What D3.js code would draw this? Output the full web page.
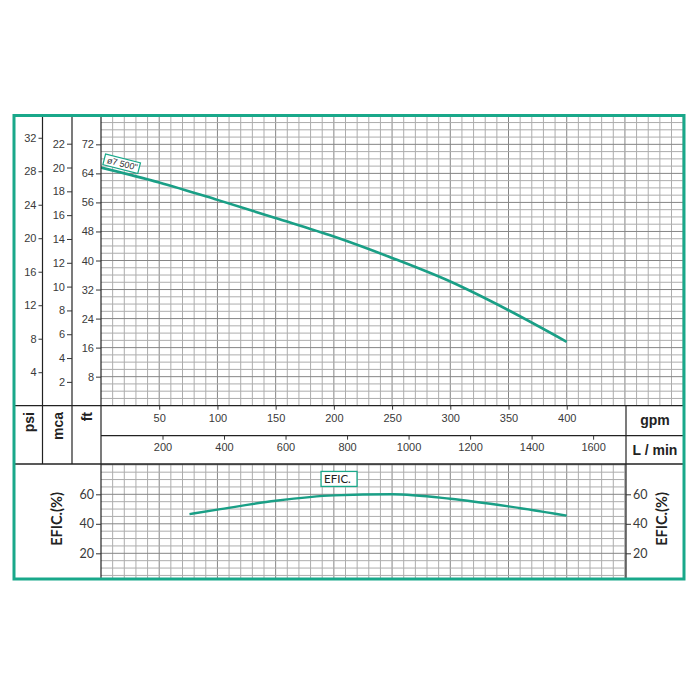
<!DOCTYPE html>
<html><head><meta charset="utf-8">
<script src="https://cdn.jsdelivr.net/npm/d3@7"></script>
<style>html,body{margin:0;padding:0;background:#fff;}svg{display:block;}</style>
</head><body>
<script>
// ---- data ----
const headFlowGpm = [0, 50, 100, 150, 200, 250, 300, 350, 400];
const headFt      = [65.6, 61.5, 56.7, 51.7, 46.6, 40.7, 34.2, 26.3, 17.6];
const effFlowGpm  = [76, 100, 150, 200, 250, 300, 350, 400];
const effPct      = [46.6, 49.6, 55.6, 59.3, 60.0, 57.0, 51.8, 45.5];
const gpmTicks = [50, 100, 150, 200, 250, 300, 350, 400];
const lpmTicks = [200, 400, 600, 800, 1000, 1200, 1400, 1600];
const ftTicks  = [8, 16, 24, 32, 40, 48, 56, 64, 72];
const mcaTicks = [2, 4, 6, 8, 10, 12, 14, 16, 18, 20, 22];
const psiTicks = [4, 8, 12, 16, 20, 24, 28, 32];
const effTicks = [20, 40, 60];
const curveLabel = 'ø7 500"';
const effLabel = 'EFIC.';

// ---- layout ----
const W = 700, H = 700;
const B = {l: 14, r: 684, t: 115.5, b: 579};
const xL = 101, xR = 626, xPsi = 42.5, xMca = 72;
const yHeadBase = 405.7, yMid = 435.7, yRowBot = 464;
const GREEN = '#19a88a', LINE = '#1a9f86';
const MINOR = '#adadad', MAJOR = '#858585';

const svg = d3.select('body').append('svg').attr('width', W).attr('height', H);
svg.append('rect').attr('width', W).attr('height', H).attr('fill', '#fff');

const x = d3.scaleLinear().domain([0, 500]).range([xL, xL + 500 * 1.1643]);
const xLpm = d3.scaleLinear().domain([0, 500 * 3.7854]).range(x.range());
const yFt = d3.scaleLinear().domain([0, 80]).range([yHeadBase, yHeadBase - 80 * 3.63]);
const yMca = d3.scaleLinear().domain([0, 80 / 3.2808]).range(yFt.range());
const yPsi = d3.scaleLinear().domain([0, 80 / 2.3067]).range(yFt.range());
const yEff = d3.scaleLinear().domain([0, 80]).range([582.8, 582.8 - 80 * 1.475]);

const defs = svg.append('defs');
defs.append('clipPath').attr('id', 'cTop').append('rect')
  .attr('x', xL).attr('y', B.t).attr('width', B.r - xL).attr('height', yHeadBase - B.t);
defs.append('clipPath').attr('id', 'cBot').append('rect')
  .attr('x', xL).attr('y', yRowBot).attr('width', xR - xL).attr('height', B.b - yRowBot);

// ---- top grid ----
const gTop = svg.append('g').attr('clip-path', 'url(#cTop)');
gTop.selectAll('line.v').data(d3.range(10, 501, 10)).join('line')
  .attr('x1', d => x(d)).attr('x2', d => x(d)).attr('y1', B.t).attr('y2', yHeadBase)
  .attr('stroke', d => d % 50 === 0 ? MAJOR : MINOR).attr('stroke-width', 1);
gTop.selectAll('line.h').data(d3.range(2, 81, 2)).join('line')
  .attr('y1', d => yFt(d)).attr('y2', d => yFt(d)).attr('x1', xL).attr('x2', B.r)
  .attr('stroke', d => d % 8 === 0 ? MAJOR : MINOR).attr('stroke-width', 1);

// ---- bottom grid ----
const gBot = svg.append('g').attr('clip-path', 'url(#cBot)');
gBot.selectAll('line.v').data(d3.range(10, 451, 10)).join('line')
  .attr('x1', d => x(d)).attr('x2', d => x(d)).attr('y1', yRowBot).attr('y2', B.b)
  .attr('stroke', d => d % 50 === 0 ? MAJOR : MINOR).attr('stroke-width', 1);
gBot.selectAll('line.h').data(d3.range(5, 81, 5)).join('line')
  .attr('y1', d => yEff(d)).attr('y2', d => yEff(d)).attr('x1', xL).attr('x2', xR)
  .attr('stroke', d => d % 20 === 0 ? MAJOR : MINOR).attr('stroke-width', 1);

// ---- curves ----
const headData = headFlowGpm.map((q, i) => [q, headFt[i]]);
const effData = effFlowGpm.map((q, i) => [q, effPct[i]]);
gTop.append('path').datum(headData)
  .attr('d', d3.line().x(d => x(d[0])).y(d => yFt(d[1])).curve(d3.curveMonotoneX))
  .attr('fill', 'none').attr('stroke', LINE).attr('stroke-width', 2.6);
gBot.append('path').datum(effData)
  .attr('d', d3.line().x(d => x(d[0])).y(d => yEff(d[1])).curve(d3.curveMonotoneX))
  .attr('fill', 'none').attr('stroke', LINE).attr('stroke-width', 2.4);

// curve label (rotated box)
const ang = Math.atan2(yFt(headFt[1]) - yFt(headFt[0]), x(headFlowGpm[1]) - x(headFlowGpm[0])) * 180 / Math.PI;
const lab = svg.append('g')
  .attr('transform', `translate(${x(1.5)},${yFt(headFt[0]) - 2.5}) rotate(${ang})`);
lab.append('rect').attr('x', 0).attr('y', -11.5).attr('width', 36).attr('height', 11)
  .attr('fill', '#fff').attr('stroke', GREEN).attr('stroke-width', 1.2);
lab.append('text').attr('x', 3).attr('y', -3).text(curveLabel)
  .attr('font-family', 'Liberation Sans, Arial, sans-serif').attr('font-size', 9).attr('fill', '#333');

// EFIC. label box
const eg = svg.append('g').attr('transform', `translate(${x(189)},${yEff(75.5)})`);
eg.append('rect').attr('x', 0).attr('y', 0).attr('width', 36).attr('height', 15)
  .attr('fill', '#fff').attr('stroke', GREEN).attr('stroke-width', 1.3);
eg.append('text').attr('x', 3).attr('y', 11.5).text(effLabel)
  .attr('font-family', 'Lato, sans-serif').attr('font-size', 11.5).attr('fill', '#222');

// ---- structural lines ----
const st = svg.append('g').attr('stroke', '#222').attr('stroke-width', 1.2);
[xPsi, xMca].forEach(v => st.append('line').attr('x1', v).attr('x2', v).attr('y1', B.t).attr('y2', yRowBot));
st.append('line').attr('x1', xL).attr('x2', xL).attr('y1', B.t).attr('y2', B.b);
st.append('line').attr('x1', xR).attr('x2', xR).attr('y1', yHeadBase).attr('y2', B.b);
st.append('line').attr('x1', B.l).attr('x2', B.r).attr('y1', yHeadBase).attr('y2', yHeadBase);
st.append('line').attr('x1', xL).attr('x2', B.r).attr('y1', yMid).attr('y2', yMid);
st.append('line').attr('x1', B.l).attr('x2', B.r).attr('y1', yRowBot).attr('y2', yRowBot).attr('stroke-width', 1.6);

// ---- axes ----
function styleAxis(g, font, size) {
  g.select('.domain').remove();
  g.selectAll('line').attr('stroke', '#333');
  g.selectAll('text').attr('font-family', font).attr('font-size', size).attr('fill', '#3a3a3a');
}
const SANS = 'Liberation Sans, Arial, sans-serif';
const fmt = d3.format('d');
svg.append('g').attr('transform', `translate(${xL},0)`)
  .call(d3.axisLeft(yFt).tickValues(ftTicks).tickFormat(fmt).tickSize(5).tickPadding(2))
  .call(g => styleAxis(g, SANS, 11));
svg.append('g').attr('transform', `translate(${xMca},0)`)
  .call(d3.axisLeft(yMca).tickValues(mcaTicks).tickFormat(fmt).tickSize(5).tickPadding(2))
  .call(g => styleAxis(g, SANS, 11));
svg.append('g').attr('transform', `translate(${xPsi},0)`)
  .call(d3.axisLeft(yPsi).tickValues(psiTicks).tickFormat(fmt).tickSize(4).tickPadding(2))
  .call(g => styleAxis(g, SANS, 11));
svg.append('g').attr('transform', `translate(0,${yHeadBase})`)
  .call(d3.axisBottom(x).tickValues(gpmTicks).tickFormat(fmt).tickSize(4).tickPadding(5))
  .call(g => styleAxis(g, SANS, 11));
svg.append('g').attr('transform', `translate(0,${yMid})`)
  .call(d3.axisBottom(xLpm).tickValues(lpmTicks).tickFormat(fmt).tickSize(4).tickPadding(4))
  .call(g => styleAxis(g, SANS, 11));
svg.append('g').attr('transform', `translate(${xL},0)`)
  .call(d3.axisLeft(yEff).tickValues(effTicks).tickFormat(fmt).tickSize(5).tickPadding(2))
  .call(g => styleAxis(g, 'Lato, sans-serif', 12.5));
svg.append('g').attr('transform', `translate(${xR},0)`)
  .call(d3.axisRight(yEff).tickValues(effTicks).tickFormat(fmt).tickSize(5).tickPadding(2))
  .call(g => styleAxis(g, 'Lato, sans-serif', 12.5));

// ---- titles ----
function vText(tx, ty, s, anchor, font, size) {
  svg.append('text').attr('transform', `translate(${tx},${ty}) rotate(-90)`)
    .attr('text-anchor', anchor).attr('font-family', font).attr('font-weight', 'bold')
    .attr('font-size', size).attr('fill', '#222').text(s);
}
vText(34, 412, 'psi', 'end', SANS, 14);
vText(62.5, 412, 'mca', 'end', SANS, 14);
vText(91.5, 412, 'ft', 'end', SANS, 14);
vText(62, 519, 'EFIC.(%)', 'middle', 'Lato, sans-serif', 14.5);
vText(667, 519, 'EFIC.(%)', 'middle', 'Lato, sans-serif', 14.5);
svg.append('text').attr('x', (xR + B.r) / 2).attr('y', 425).attr('text-anchor', 'middle')
  .attr('font-family', SANS).attr('font-weight', 'bold').attr('font-size', 14).attr('fill', '#222').text('gpm');
svg.append('text').attr('x', (xR + B.r) / 2).attr('y', 455).attr('text-anchor', 'middle')
  .attr('font-family', SANS).attr('font-weight', 'bold').attr('font-size', 14).attr('fill', '#222').text('L / min');

// ---- outer border ----
svg.append('rect').attr('x', B.l).attr('y', B.t).attr('width', B.r - B.l).attr('height', B.b - B.t)
  .attr('fill', 'none').attr('stroke', GREEN).attr('stroke-width', 3);
</script>
</body></html>
